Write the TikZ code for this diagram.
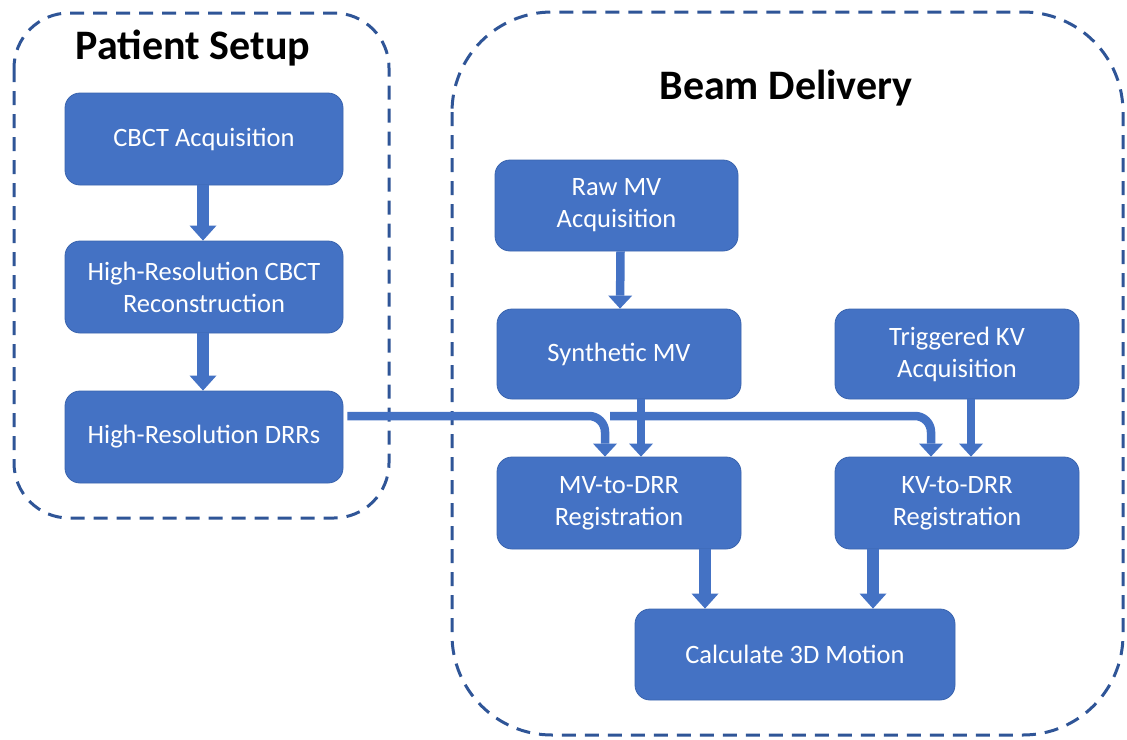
\documentclass[tikz,border=0pt]{standalone}
\usepackage{fontspec}
\setmainfont{Carlito}
\usetikzlibrary{arrows.meta,calc}
\definecolor{boxblue}{HTML}{4472C4}
\definecolor{boxedge}{HTML}{3A64AE}
\definecolor{frameblue}{HTML}{2F5597}

\tikzset{
  stepbox/.style={fill=boxblue, draw=boxedge, line width=0.8pt,
    rounded corners=15pt, text=white, align=center, inner sep=0pt,
    font=\fontsize{26.5}{32}\selectfont},
  groupframe/.style={draw=frameblue, line width=3pt, dash pattern=on 14pt off 9pt},
  grouptitle/.style={font=\fontsize{42}{46}\bfseries\selectfont, text=black},
  bigarrow/.style={draw=boxblue, line width=12pt,
    -{Triangle[width=27pt,length=15pt,line width'=0pt]}},
  smallarrow/.style={draw=boxblue, line width=8.5pt,
    -{Triangle[width=24pt,length=13pt,line width'=0pt]}},
  linkarrow/.style={smallarrow, rounded corners=16pt},
}

\begin{document}
\begin{tikzpicture}[x=1pt,y=-1pt]
  \useasboundingbox (0,0) rectangle (1127,739);

  % dashed group frames
  \draw[groupframe, rounded corners=55pt] (14,13) rectangle (389,518);
  \draw[groupframe, rounded corners=100pt] (452,12) rectangle (1123,735);

  \node[grouptitle] (ptitle) at (193,48) {Patient Setup};
  \node[grouptitle] (btitle) at (786,88) {Beam Delivery};

  % patient setup steps
  \node[stepbox, minimum width=278pt, minimum height=92pt] (cbct) at (204,139) {CBCT Acquisition};
  \node[stepbox, minimum width=278pt, minimum height=92pt] (recon) at (204,287) {High-Resolution CBCT\\Reconstruction};
  \node[stepbox, minimum width=278pt, minimum height=92pt] (drr) at (204,437) {High-Resolution DRRs};

  % beam delivery steps
  \node[stepbox, minimum width=243pt, minimum height=91pt] (rawmv) at (616.5,205.5) {Raw MV\\Acquisition};
  \node[stepbox, minimum width=244pt, minimum height=90pt] (synth) at (619,354) {Synthetic MV};
  \node[stepbox, minimum width=244pt, minimum height=90pt] (kv) at (957,354) {Triggered KV\\Acquisition};
  \node[stepbox, minimum width=244pt, minimum height=92pt] (mvdrr) at (619,503) {MV-to-DRR\\Registration};
  \node[stepbox, minimum width=244pt, minimum height=92pt] (kvdrr) at (957,503) {KV-to-DRR\\Registration};
  \node[stepbox, minimum width=320pt, minimum height=91pt] (motion) at (795,654.5) {Calculate 3D Motion};

  % patient setup flow
  \draw[bigarrow] ([xshift=-1pt]cbct.south) -- ([xshift=-1pt]recon.north);
  \draw[bigarrow] ([xshift=-1pt]recon.south) -- ([xshift=-1pt]drr.north);

  % DRR links into the registrations
  \coordinate (split) at (610,416);
  \draw[linkarrow] ($(drr.east)+(4,-21)$) -| ($(mvdrr.north)+(-14,0)$);
  \draw[linkarrow] (split) -| ($(kvdrr.north)+(-26,0)$);

  % beam delivery flow
  \draw[smallarrow] ([xshift=4pt]rawmv.south) -- ([xshift=1pt]synth.north);
  \draw[smallarrow] ([xshift=22pt]synth.south) -- ([xshift=22pt]mvdrr.north);
  \draw[smallarrow] ([xshift=14pt]kv.south) -- ([xshift=14pt]kvdrr.north);
  \draw[bigarrow] ([xshift=86pt]mvdrr.south) -- ([xshift=-90pt]motion.north);
  \draw[bigarrow] ([xshift=-84pt]kvdrr.south) -- ([xshift=78pt]motion.north);
\end{tikzpicture}
\end{document}
